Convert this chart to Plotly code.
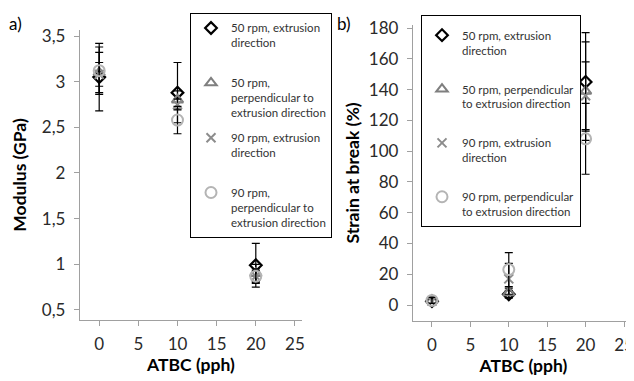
import plotly.graph_objects as go

atbc = [0, 10, 20]

PAD = "<br>&#160;"
names_a = ["50 rpm, extrusion<br>direction" + PAD,
           "50 rpm,<br>perpendicular to<br>extrusion direction",
           "90 rpm, extrusion<br>direction" + PAD,
           "90 rpm,<br>perpendicular to<br>extrusion direction"]
names_b = ["50 rpm, extrusion<br>direction" + PAD,
           "50 rpm, perpendicular<br>to extrusion direction" + PAD,
           "90 rpm, extrusion<br>direction" + PAD,
           "90 rpm, perpendicular<br>to extrusion direction"]

# Modulus (GPa)
mod_50_ext = [3.05, 2.88, 0.99]
mod_50_ext_err = [0.37, 0.33, 0.24]
mod_50_perp = [3.10, 2.80, 0.90]
mod_50_perp_err = [0.22, 0.10, 0.10]
mod_90_ext = [3.08, 2.75, 0.87]
mod_90_ext_err = [0.13, 0.06, 0.08]
mod_90_perp = [3.12, 2.58, 0.87]
mod_90_perp_err = [0.26, 0.15, 0.06]

# Strain at break (%)
str_50_ext = [2.5, 7, 145]
str_50_ext_err = [1.5, 2.5, 32]
str_50_perp = [3, 8, 139]
str_50_perp_err = [2, 3, 32]
str_90_ext = [2.5, 17, 136]
str_90_ext_err = [1.5, 10, 22]
str_90_perp = [3, 23, 108]
str_90_perp_err = [2, 11, 23]

styles = [
    dict(symbol="diamond-open", color="#000000", size=9, line=dict(width=2.2, color="#000000")),
    dict(symbol="triangle-up-open", color="#7f7f7f", size=10, line=dict(width=2, color="#7f7f7f")),
    dict(symbol="x-thin-open", color="#8c8c8c", size=9, line=dict(width=2, color="#8c8c8c")),
    dict(symbol="circle-open", color="#b4b4b4", size=11, line=dict(width=2, color="#b4b4b4")),
]

FONT = "Lato, 'Open Sans', sans-serif"
fig = go.Figure()

mods = [(mod_50_ext, mod_50_ext_err), (mod_50_perp, mod_50_perp_err),
        (mod_90_ext, mod_90_ext_err), (mod_90_perp, mod_90_perp_err)]
strs = [(str_50_ext, str_50_ext_err), (str_50_perp, str_50_perp_err),
        (str_90_ext, str_90_ext_err), (str_90_perp, str_90_perp_err)]

for i, (v, e) in enumerate(mods):
    fig.add_trace(go.Scatter(
        x=atbc, y=v, mode="markers", name=names_a[i], marker=styles[i],
        error_y=dict(type="data", array=e, color="#000000", thickness=1.2, width=4),
        xaxis="x", yaxis="y", legend="legend", legendgroup="a%d" % i))
for i, (v, e) in enumerate(strs):
    fig.add_trace(go.Scatter(
        x=atbc, y=v, mode="markers", name=names_b[i], marker=styles[i],
        error_y=dict(type="data", array=e, color="#000000", thickness=1.2, width=4),
        xaxis="x2", yaxis="y2", legend="legend2", legendgroup="b%d" % i))

# page has an 8px body margin; figure sized to fill the rest of the window
OFF = 8
W, H = 634 - OFF, 381 - OFF
def px(x):
    return (x - OFF) / W
def py(y):
    return 1 - (y - OFF) / H

axis_common = dict(showgrid=False, zeroline=False, showline=True, linecolor="#a0a0a0",
                   linewidth=1.3, ticks="outside", ticklen=5, tickcolor="#a0a0a0",
                   automargin=False,
                   tickfont=dict(size=17, color="#2a2a2a", family=FONT))
title_font = dict(size=17.5, family=FONT, color="#000000")

fig.update_layout(
    template="none",
    width=W, height=H, margin=dict(l=0, r=0, t=0, b=0, pad=0, autoexpand=False),
    paper_bgcolor="white", plot_bgcolor="white",
    separators=", ",
    font=dict(family=FONT, color="#000000"),
    xaxis=dict(domain=[px(80), px(302)], range=[-2.45, 25.9], anchor="y",
               tickvals=[0, 5, 10, 15, 20, 25], ticklabelstandoff=3,
               title=dict(text="<b>ATBC (pph)</b>", font=title_font, standoff=5),
               **axis_common),
    yaxis=dict(domain=[py(320), py(30)], range=[0.39, 3.566], anchor="x",
               tickvals=[0.5, 1, 1.5, 2, 2.5, 3, 3.5], ticklabelstandoff=5,
               title=dict(text="<b>Modulus (GPa)</b>", font=title_font, standoff=10),
               **axis_common),
    xaxis2=dict(domain=[px(413), 1.0], range=[-2.47, 26.3], anchor="y2",
                tickvals=[0, 5, 10, 15, 20, 25], ticklabelstandoff=3,
                title=dict(text="<b>ATBC (pph)</b>", font=title_font, standoff=5),
                **axis_common),
    yaxis2=dict(domain=[py(321), py(25)], range=[-10.4, 182], anchor="x2",
                tickvals=[0, 20, 40, 60, 80, 100, 120, 140, 160, 180], ticklabelstandoff=5,
                title=dict(text="<b>Strain at break (%)</b>", font=title_font, standoff=4),
                **axis_common),
    legend=dict(x=px(190), y=py(13), xanchor="left", yanchor="top",
                bordercolor="#000000", borderwidth=1, bgcolor="white",
                font=dict(size=11.5, family=FONT, color="#333333"),
                valign="top", tracegroupgap=7),
    legend2=dict(x=px(421), y=py(15), xanchor="left", yanchor="top",
                 bordercolor="#000000", borderwidth=1, bgcolor="white",
                 font=dict(size=11.5, family=FONT, color="#333333"),
                 title=dict(text="&#160;", font=dict(size=4)),
                 valign="top", tracegroupgap=6),
    annotations=[
        dict(text="a)", x=px(7), y=py(11), xref="paper", yref="paper", xanchor="left",
             yanchor="top", showarrow=False, font=dict(size=17, family=FONT, color="#000000")),
        dict(text="b)", x=px(335), y=py(11), xref="paper", yref="paper", xanchor="left",
             yanchor="top", showarrow=False, font=dict(size=17, family=FONT, color="#000000")),
    ],
)

fig.write_html("out.html")
